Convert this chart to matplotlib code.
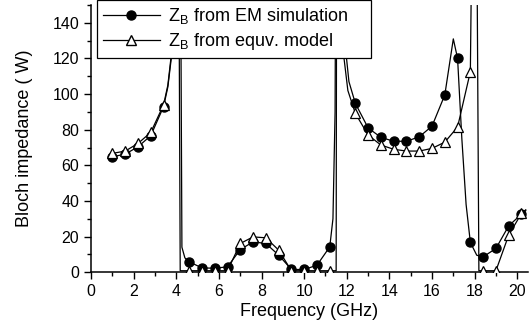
import matplotlib
matplotlib.use("Agg")
import matplotlib.pyplot as plt
from matplotlib.ticker import MultipleLocator

plt.rcParams['font.family'] = ['Liberation Sans', 'DejaVu Sans']

# marker points (GHz, Ohm)
em_f = [1.0, 1.6, 2.2, 2.8, 3.4, 4.6, 5.2, 5.8, 6.4, 7.0, 7.6, 8.2, 8.8, 9.4, 10.0,
        10.6, 11.2, 12.4, 13.0, 13.6, 14.2, 14.8, 15.4, 16.0, 16.6, 17.2, 17.8,
        18.4, 19.0, 19.6, 20.2]
em_z = [64.8, 66.3, 70.4, 76.7, 93.0, 5.8, 2.4, 2.2, 3.0, 12.7, 17.0, 16.1, 9.6,
        1.5, 1.5, 3.9, 14.2, 94.8, 81.0, 75.7, 73.5, 73.5, 76.0, 82.0, 99.5,
        120.0, 16.7, 8.6, 13.3, 26.0, 32.6]

eq_f = em_f
eq_z = [66.7, 68.0, 72.3, 78.5, 94.0, 0.8, 0.8, 0.8, 0.8, 16.1, 19.8, 19.3, 12.4,
        0.8, 0.8, 0.8, 0.8, 89.2, 77.0, 71.4, 69.0, 68.0, 68.0, 69.5, 73.0,
        81.5, 112.6, 0.8, 0.8, 20.8, 33.0]

# connecting curves, incl. the resonance spikes
em_line_f = [1.0, 1.6, 2.2, 2.8, 3.4, 3.6, 3.8, 3.95, 4.2, 4.26, 4.4, 4.6, 5.2, 5.8,
             6.4, 7.0, 7.6, 8.2, 8.8, 9.4, 10.0, 10.6, 11.2, 11.35, 11.45, 11.5, 11.9,
             11.97, 12.1, 12.4, 13.0, 13.6, 14.2, 14.8, 15.4, 16.0, 16.6, 17.0,
             17.2, 17.4, 17.6, 17.8, 18.1, 18.4, 19.0, 19.6, 20.2, 20.4]
em_line_z = [64.8, 66.3, 70.4, 76.7, 93.0, 104, 124, 170, 170, 14, 8, 5.8, 2.4, 2.2,
             3.0, 12.7, 17.0, 16.1, 9.6, 1.5, 1.5, 3.9, 14.2, 30, 90, 250, 170,
             122, 107, 94.8, 81.0, 75.7, 73.5, 73.5, 76.0, 82.0, 99.5, 131,
             120.0, 75, 38, 16.7, 9.5, 8.6, 13.3, 26.0, 32.6, 34.5]

eq_line_f = [1.0, 1.6, 2.2, 2.8, 3.4, 3.6, 3.8, 3.93, 4.12, 4.18, 4.6, 5.2, 5.8, 6.4,
             7.0, 7.6, 8.2, 8.8, 9.4, 10.0, 10.6, 11.2, 11.5, 11.53, 11.75, 11.85,
             12.05, 12.4, 13.0, 13.6, 14.2, 14.8, 15.4, 16.0, 16.6, 17.2, 17.8,
             17.97, 18.05, 18.2, 18.4, 19.0, 19.6, 20.2, 20.4]
eq_line_z = [66.7, 68.0, 72.3, 78.5, 94.0, 105, 126, 170, 170, 0.8, 0.8, 0.8, 0.8, 0.8,
             16.1, 19.8, 19.3, 12.4, 0.8, 0.8, 0.8, 0.8, 0.8, 250, 250, 122,
             102, 89.2, 77.0, 71.4, 69.0, 68.0, 68.0, 69.5, 73.0, 81.5, 112.6,
             300, 300, 0.8, 0.8, 0.8, 20.8, 33.0, 35.0]

fig = plt.figure(figsize=(5.3, 3.36), dpi=100)
ax = fig.add_axes([0.172, 0.19, 0.824, 0.795])

ax.plot(em_line_f, em_line_z, color='black', lw=0.9)
ax.plot(eq_line_f, eq_line_z, color='black', lw=0.9)
ax.plot(em_f, em_z, 'o', color='black', ms=6.5, zorder=3)
ax.plot(eq_f, eq_z, '^', mfc='white', mec='black', mew=0.9, ms=7, zorder=4)

# legend handles
h1, = ax.plot([], [], '-o', color='black', lw=0.9, ms=6.5)
h2, = ax.plot([], [], '-^', color='black', mfc='white', lw=0.9, ms=7)
leg = ax.legend([h1, h2], [r'$\mathregular{Z_B}$ from EM simulation',
                           r'$\mathregular{Z_B}$ from equv. model'],
                loc='upper left', bbox_to_anchor=(0.0137, 0.5, 0.627, 0.517),
                mode='expand', borderaxespad=0,
                fancybox=False, edgecolor='black', framealpha=1, fontsize=13,
                handlelength=3.2, handletextpad=0.45, labelspacing=0.3,
                borderpad=0.3)
leg.get_frame().set_linewidth(0.9)

ax.set_xlim(0, 20.5)
ax.set_ylim(0, 150)
ax.xaxis.set_major_locator(MultipleLocator(2))
ax.xaxis.set_minor_locator(MultipleLocator(1))
ax.yaxis.set_major_locator(MultipleLocator(20))
ax.yaxis.set_minor_locator(MultipleLocator(10))
ax.tick_params(which='major', length=5, width=1, labelsize=11.5)
ax.tick_params(which='minor', length=3, width=1)
ax.spines['top'].set_visible(False)
ax.spines['right'].set_visible(False)
ax.spines['left'].set_linewidth(1.1)
ax.spines['bottom'].set_linewidth(1.1)

ax.set_xlabel('Frequency (GHz)', fontsize=13, labelpad=3)
ax.set_ylabel('Bloch impedance ( W)', fontsize=13, labelpad=14)

fig.savefig('out.png', dpi=100)
